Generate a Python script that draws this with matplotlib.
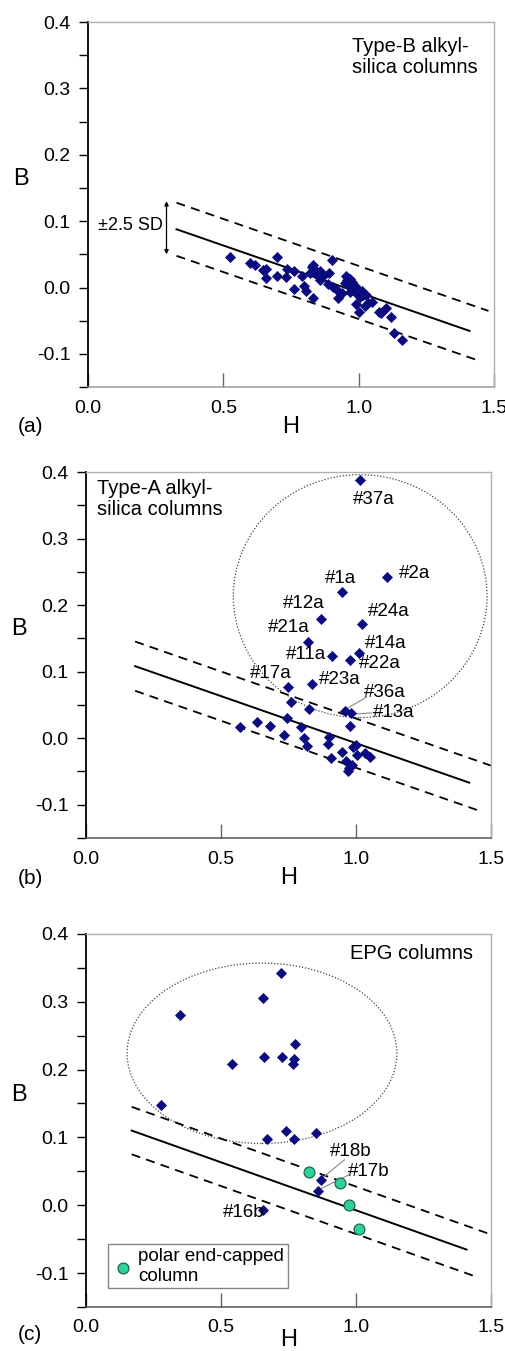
import numpy as np
import matplotlib
matplotlib.use("Agg")
import matplotlib.pyplot as plt
from matplotlib.patches import Ellipse

plt.rcParams['font.family'] = ['Liberation Sans', 'DejaVu Sans']

# panel (a): Type-B alkyl-silica columns
H_a = [0.524, 0.600, 0.616, 0.647, 0.656, 0.659, 0.700, 0.699, 0.731, 0.736,
       0.761, 0.761, 0.789, 0.797, 0.805, 0.830, 0.820, 0.826, 0.832, 0.839,
       0.842, 0.857, 0.859, 0.869, 0.891, 0.888, 0.903, 0.906, 0.921, 0.924,
       0.937, 0.949, 0.955, 0.958, 0.968, 0.970, 0.977, 0.980, 0.986, 0.992,
       0.998, 1.005, 1.011, 1.017, 1.027, 0.992, 1.002, 1.023, 1.035, 1.051,
       1.076, 1.082, 1.103, 1.118, 1.131, 1.162, 0.970, 0.962]
B_a = [0.046, 0.0375, 0.0345, 0.027, 0.0285, 0.0145, 0.046, 0.018, 0.016, 0.028,
       0.025, -0.0015, 0.017, 0.002, -0.0055, -0.0165, 0.022, 0.031, 0.0335, 0.027,
       0.020, 0.025, 0.012, 0.017, 0.022, 0.006, 0.042, 0.001, -0.004, -0.0165,
       -0.008, 0.007, 0.017, 0.011, 0.0135, 0.002, 0.0085, -0.003, -0.0065, 0.001,
       -0.009, -0.014, -0.005, -0.0115, -0.0115, -0.025, -0.0365, -0.028, -0.024, -0.0215,
       -0.0365, -0.039, -0.0315, -0.045, -0.068, -0.079, -0.0065, 0.004]

# panel (b): Type-A alkyl-silica columns
H_b = [0.760, 0.827, 0.746, 0.979, 0.571, 0.635, 0.682, 0.735, 0.797, 0.809,
       0.818, 0.901, 0.895, 0.908, 0.948, 0.963, 0.970, 0.976, 0.985, 0.989,
       1.001, 1.003, 1.034, 1.053]
B_b = [0.0545, 0.0435, 0.030, 0.019, 0.0165, 0.024, 0.0185, 0.0045, 0.0165, 0.0,
       -0.0115, 0.0025, -0.0085, -0.029, -0.020, -0.0335, -0.049, -0.045, -0.040, -0.0135,
       -0.010, -0.025, -0.0225, -0.0275]
lab_b = ['#37a', '#2a', '#1a', '#12a', '#24a', '#21a', '#14a', '#11a', '#22a',
         '#17a', '#23a', '#36a', '#13a']
lab_H_b = [1.016, 1.115, 0.950, 0.870, 1.022, 0.822, 1.013, 0.913, 0.979, 0.750, 0.837, 0.960, 0.981]
lab_B_b = [0.3885, 0.2425, 0.219, 0.179, 0.1715, 0.1445, 0.1275, 0.124, 0.117, 0.0775, 0.082, 0.0415, 0.0375]

# panel (c): EPG columns
H_c = [0.722, 0.657, 0.348, 0.774, 0.660, 0.725, 0.771, 0.766, 0.542, 0.277,
       0.740, 0.670, 0.771, 0.853]
B_c = [0.342, 0.306, 0.280, 0.238, 0.219, 0.218, 0.215, 0.208, 0.208, 0.148,
       0.110, 0.097, 0.097, 0.106]
lab_c = ['#18b', '#17b', '#16b']
lab_H_c = [0.870, 0.858, 0.657]
lab_B_c = [0.037, 0.0207, -0.0064]
H_polar = [0.828, 0.942, 0.976, 1.011]
B_polar = [0.049, 0.033, 0.0, -0.0345]

# reference line B = a + b*H and +/-2.5 SD band
line_a, line_b = 0.134, -0.1414

navy = '#0b0b80'
green = '#2fd19a'
fs_tick = 14
fs_lab = 13.5

fig = plt.figure(figsize=(5.06, 13.51), dpi=100)
ax_a = fig.add_axes([0.174, 0.7135, 0.802, 0.2702])
ax_b = fig.add_axes([0.170, 0.3797, 0.800, 0.2709])
ax_c = fig.add_axes([0.170, 0.0326, 0.800, 0.2761])


def style(ax, bottom_col, hy):
    ax.set_xlim(0, 1.5)
    ax.set_ylim(-0.15, 0.4)
    ax.spines['left'].set_color('black')
    ax.spines['left'].set_linewidth(1.3)
    ax.spines['bottom'].set_color(bottom_col)
    ax.spines['bottom'].set_linewidth(1.1)
    for s in ['top', 'right']:
        ax.spines[s].set_color('#b0b0b0')
        ax.spines[s].set_linewidth(1.0)
    ax.set_yticks(np.arange(-0.15, 0.401, 0.05))
    ax.set_yticklabels(['', '-0.1', '', '0.0', '', '0.1', '', '0.2', '', '0.3', '', '0.4'])
    ax.set_xticks([0, 0.5, 1.0, 1.5])
    ax.set_xticklabels(['0.0', '0.5', '1.0', '1.5'])
    ax.tick_params(axis='y', direction='out', length=6.5, width=1.0, labelsize=fs_tick, pad=6)
    ax.tick_params(axis='x', direction='in', length=10, width=1.0, color='#666666',
                   labelsize=fs_tick, pad=9)
    ax.set_ylabel('B', fontsize=17, rotation=0)
    ax.yaxis.set_label_coords(-0.165, 0.54)
    ax.set_xlabel('H', fontsize=17)
    ax.xaxis.set_label_coords(0.5, hy)


def ref_lines(ax, x0, x1, up0, up1, lo0, lo1, sd):
    xs = np.array([x0, x1])
    ax.plot(xs, line_a + line_b * xs, color='black', lw=1.4)
    xu = np.array([up0, up1])
    ax.plot(xu, line_a + sd + line_b * xu, color='black', lw=1.3, ls=(0, (5, 3.5)))
    xl = np.array([lo0, lo1])
    ax.plot(xl, line_a - sd + line_b * xl, color='black', lw=1.3, ls=(0, (5, 3.5)))


# (a)
style(ax_a, '#9a9a9a', -0.08)
ref_lines(ax_a, 0.327, 1.41, 0.327, 1.48, 0.327, 1.44, 0.040)
ax_a.scatter(H_a, B_a, marker='D', s=32, color=navy, zorder=3, linewidths=0)
ax_a.annotate('', xy=(0.29, 0.050), xytext=(0.29, 0.130),
              arrowprops=dict(arrowstyle='<|-|>', color='black', lw=0.9,
                              mutation_scale=6, shrinkA=0, shrinkB=0))
ax_a.text(0.035, 0.093, '±2.5 SD', fontsize=13, va='center', ha='left')
ax_a.text(0.975, 0.378, 'Type-B alkyl-\nsilica columns', fontsize=14.5, va='top',
          ha='left', linespacing=1.15)
fig.text(0.035, 0.684, '(a)', fontsize=15, va='center')

# (b)
style(ax_b, '#555555', -0.08)
ref_lines(ax_b, 0.182, 1.42, 0.182, 1.50, 0.182, 1.455, 0.037)
ax_b.add_patch(Ellipse((1.016, 0.2135), 0.94, 0.365, fill=False, ls=(0, (1, 1.5)),
                       lw=0.9, color='#444444'))
ax_b.scatter(H_b, B_b, marker='D', s=32, color=navy, zorder=3, linewidths=0)
ax_b.scatter(lab_H_b, lab_B_b, marker='D', s=32, color=navy, zorder=3, linewidths=0)
offs_b = {'#37a': (1.065, 0.358, 'center'), '#2a': (1.160, 0.247, 'left'),
          '#1a': (0.886, 0.240, 'left'), '#12a': (0.729, 0.202, 'left'),
          '#24a': (1.044, 0.191, 'left'), '#21a': (0.674, 0.167, 'left'),
          '#14a': (1.032, 0.142, 'left'), '#11a': (0.742, 0.126, 'left'),
          '#22a': (1.010, 0.112, 'left'), '#17a': (0.608, 0.097, 'left'),
          '#23a': (0.864, 0.088, 'left'), '#36a': (1.028, 0.068, 'left'),
          '#13a': (1.062, 0.038, 'left')}
for name in lab_b:
    tx, ty, ha = offs_b[name]
    ax_b.text(tx, ty, name, fontsize=fs_lab, ha=ha, va='center')
ax_b.plot([0.965, 1.040], [0.044, 0.062], color='#888888', lw=0.8)
ax_b.plot([0.985, 1.058], [0.036, 0.038], color='#888888', lw=0.8)
ax_b.text(0.04, 0.39, 'Type-A alkyl-\nsilica columns', fontsize=14.5, va='top',
          ha='left', linespacing=1.15)
fig.text(0.035, 0.350, '(b)', fontsize=15, va='center')

# (c)
style(ax_c, '#555555', -0.058)
ref_lines(ax_c, 0.169, 1.41, 0.169, 1.49, 0.169, 1.44, 0.035)
ax_c.add_patch(Ellipse((0.652, 0.224), 1.0, 0.266, fill=False, ls=(0, (1, 1.5)),
                       lw=0.9, color='#444444'))
ax_c.scatter(H_c, B_c, marker='D', s=32, color=navy, zorder=3, linewidths=0)
ax_c.scatter(lab_H_c, lab_B_c, marker='D', s=32, color=navy, zorder=3, linewidths=0)
ax_c.scatter(H_polar, B_polar, marker='o', s=62, color=green, edgecolors='#1a5a40',
             linewidths=0.8, zorder=4, label='polar end-capped\ncolumn')
ax_c.text(0.904, 0.079, '#18b', fontsize=fs_lab, ha='left', va='center')
ax_c.text(0.972, 0.050, '#17b', fontsize=fs_lab, ha='left', va='center')
ax_c.text(0.507, -0.010, '#16b', fontsize=fs_lab, ha='left', va='center')
ax_c.plot([0.875, 0.958], [0.040, 0.067], color='#888888', lw=0.8)
ax_c.plot([0.863, 0.975], [0.023, 0.045], color='#888888', lw=0.8)
ax_c.text(1.433, 0.371, 'EPG columns', fontsize=14.5, va='center', ha='right')
leg = ax_c.legend(loc='lower left', bbox_to_anchor=(0.054, 0.05), fontsize=13.5,
                  frameon=True, fancybox=False, handletextpad=0.2, borderpad=0.2,
                  handlelength=1.2, labelspacing=0.1, borderaxespad=0)
leg.get_frame().set_edgecolor('#666666')
leg.get_frame().set_linewidth(1.0)
fig.text(0.035, 0.012, '(c)', fontsize=15, va='center')

fig.savefig('out.png', dpi=100)
